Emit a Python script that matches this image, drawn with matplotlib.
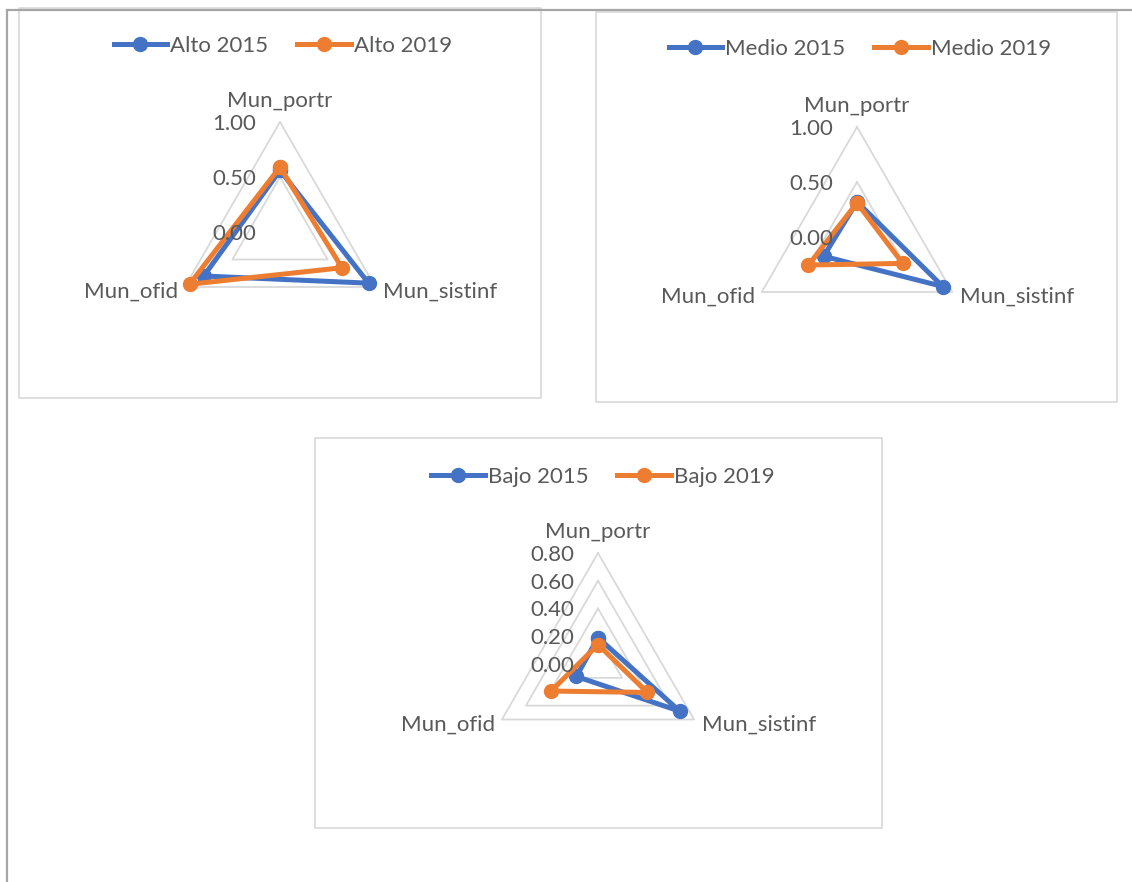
import numpy as np
import matplotlib
matplotlib.use("Agg")
import matplotlib.pyplot as plt
from matplotlib.lines import Line2D
from matplotlib.patches import Rectangle

# Data
categories = ["Mun_portr", "Mun_sistinf", "Mun_ofid"]

alto_2015 = [0.56, 0.93, 0.80]
alto_2019 = [0.59, 0.65, 0.95]
medio_2015 = [0.32, 0.90, 0.35]
medio_2019 = [0.31, 0.48, 0.51]
bajo_2015 = [0.19, 0.68, 0.18]
bajo_2019 = [0.14, 0.41, 0.39]

ticks_1 = [0.0, 0.5, 1.0]
ticks_08 = [0.0, 0.2, 0.4, 0.6, 0.8]

# Style
W, H = 1132, 882
BLUE = "#4472C4"
ORANGE = "#ED7D31"
GRID = "#D9D9D9"
TEXT = "#595959"
FS = 16

plt.rcParams['font.family'] = ['Lato', 'DejaVu Sans']

fig = plt.figure(figsize=(W / 100, H / 100), dpi=100)


def px(v):
    # pixels -> points
    return v * 72 / 100


def box(x0, y0, x1, y1):
    fig.patches.append(Rectangle((x0 / W, 1 - y1 / H), (x1 - x0) / W, (y1 - y0) / H,
                                 transform=fig.transFigure, fill=False,
                                 edgecolor=GRID, lw=1.2, zorder=0))


def draw_radar(cx, cy, radius, ticks, s2015, s2019, names, legend_xy):
    ax = fig.add_axes([(cx - radius) / W, 1 - (cy + radius) / H, 2 * radius / W, 2 * radius / H],
                      projection="polar")
    ax.set_theta_zero_location("N")
    ax.set_theta_direction(-1)
    theta = np.linspace(0, 2 * np.pi, len(categories), endpoint=False)
    closed = np.append(theta, theta[0])

    # triangular grid rings
    for t in ticks[1:]:
        ax.plot(closed, [t] * len(closed), color=GRID, lw=1.3, zorder=1, clip_on=False)

    for vals, color, name in [(s2015, BLUE, names[0]), (s2019, ORANGE, names[1])]:
        v = np.append(vals, vals[0])
        ax.plot(closed, v, color=color, lw=3.6, marker="o", ms=10,
                label=name, zorder=3, clip_on=False, solid_joinstyle="round")

    ax.set_ylim(0, ticks[-1])
    ax.set_xticks([])
    ax.set_yticks([])
    ax.grid(False)
    ax.spines["polar"].set_visible(False)
    ax.patch.set_alpha(0)

    # value labels along the top axis
    for t in ticks:
        ax.annotate(f"{t:.2f}", (0, t), xytext=(px(-24), px(-2)), textcoords="offset points",
                    ha="right", va="center", fontsize=FS, color=TEXT, annotation_clip=False)

    # category labels
    rmax = ticks[-1]
    ax.annotate(categories[0], (theta[0], rmax), xytext=(0, px(11)), textcoords="offset points",
                ha="center", va="bottom", fontsize=FS, color=TEXT, annotation_clip=False)
    ax.annotate(categories[1], (theta[1], rmax), xytext=(px(8), px(-5)), textcoords="offset points",
                ha="left", va="center", fontsize=FS, color=TEXT, annotation_clip=False)
    ax.annotate(categories[2], (theta[2], rmax), xytext=(px(-7), px(-5)), textcoords="offset points",
                ha="right", va="center", fontsize=FS, color=TEXT, annotation_clip=False)

    lx, ly = legend_xy
    ax.legend(loc="center", bbox_to_anchor=(lx / W, 1 - ly / H), bbox_transform=fig.transFigure,
              ncol=2, frameon=False, fontsize=FS, labelcolor=TEXT, handlelength=2.4,
              handletextpad=0.15, columnspacing=1.3)
    return ax


# page border lines
fig.add_artist(Line2D([7 / W, 7 / W], [0, 1 - 10 / H], transform=fig.transFigure,
                      color="#A6A6A6", lw=1.6))
fig.add_artist(Line2D([7 / W, 1], [1 - 10 / H, 1 - 10 / H], transform=fig.transFigure,
                      color="#A6A6A6", lw=1.6))

# chart boxes
box(19, 8, 541, 398)
box(596, 12, 1117, 402)
box(315, 438, 882, 828)

draw_radar(280, 232, 110, ticks_1, alto_2015, alto_2019, ["Alto 2015", "Alto 2019"], (283, 46))
draw_radar(857, 237, 110, ticks_1, medio_2015, medio_2019, ["Medio 2015", "Medio 2019"], (860, 49))
draw_radar(598, 664, 111, ticks_08, bajo_2015, bajo_2019, ["Bajo 2015", "Bajo 2019"], (603, 477))

fig.savefig("out.png", dpi=100)
